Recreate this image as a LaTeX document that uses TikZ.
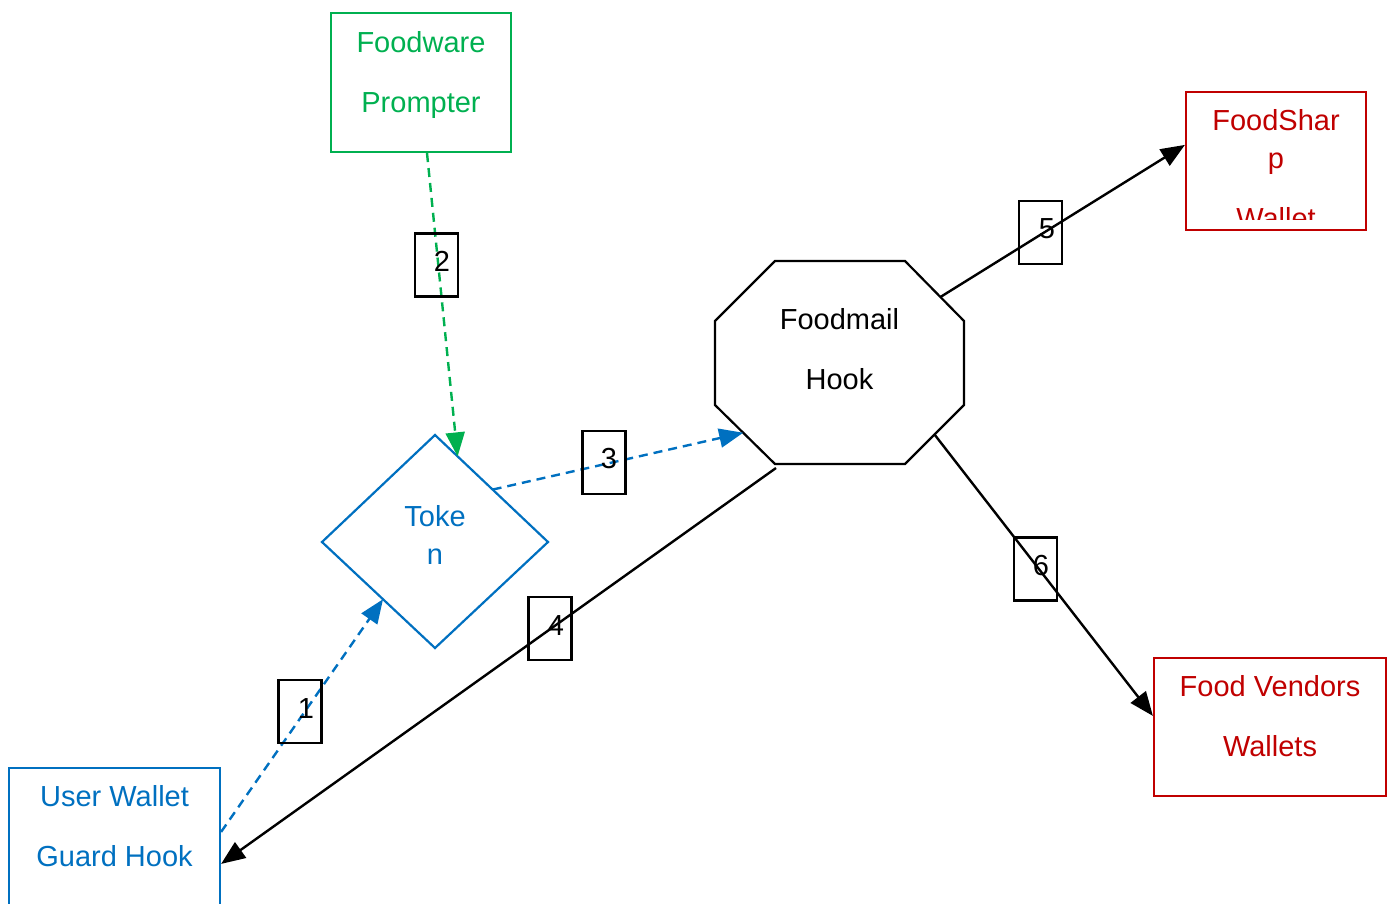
\documentclass[tikz,border=0pt]{standalone}
\usepackage{fontspec}
\setmainfont{Liberation Sans}
\usetikzlibrary{arrows.meta,calc}
\definecolor{cblue}{HTML}{0070C0}
\definecolor{cgreen}{HTML}{00B050}
\definecolor{cred}{HTML}{C00000}
\tikzset{
  box/.style={draw,line width=2.2pt,rectangle,inner sep=0pt},
  txt/.style={anchor=base,inner sep=0pt,font=\fontsize{29}{35}\selectfont},
  lbl/.style={draw=black,line width=2.2pt,rectangle,inner sep=0pt,minimum width=43pt,minimum height=63pt},
  arr/.style={line width=2.4pt,-{Triangle[length=24pt,width=19pt]}},
  dsh/.style={dash pattern=on 9pt off 6pt}
}
\begin{document}
\begin{tikzpicture}[x=1pt,y=-1pt]
\useasboundingbox (0,0) rectangle (1394,903);
% boxes
\node[box,draw=cgreen,minimum width=180pt,minimum height=139pt] (fp) at (421,82.5) {};
\node[txt,text=cgreen] (fpa) at (421,52) {Foodware};
\node[txt,text=cgreen] (fpb) at (421,112) {Prompter};

\node[box,draw=cred,minimum width=180pt,minimum height=138pt] (fs) at (1276,161) {};
\begin{scope}
\clip (1188,94) rectangle (1364,219);
\node[txt,text=cred] (fsa) at (1276,130) {FoodShar};
\node[txt,text=cred] (fsb) at (1276,168) {p};
\node[txt,text=cred] (fsc) at (1276,228) {Wallet};
\end{scope}

\node[box,draw=cred,minimum width=232pt,minimum height=138pt] (fv) at (1270,727) {};
\node[txt,text=cred] (fva) at (1270,696) {Food Vendors};
\node[txt,text=cred] (fvb) at (1270,756) {Wallets};

\node[box,draw=cblue,minimum width=211pt,minimum height=160pt] (uw) at (114.5,848) {};
\node[txt,text=cblue] (uwa) at (114.5,806) {User Wallet};
\node[txt,text=cblue] (uwb) at (114.5,866) {Guard Hook};

% token diamond
\coordinate (tkN) at (435,435);
\coordinate (tkE) at (548,542);
\coordinate (tkS) at (435,648);
\coordinate (tkW) at (322,542);
\draw[cblue,line width=2.2pt,line join=miter] (tkN) -- (tkE) -- (tkS) -- (tkW) -- cycle;
\node[txt,text=cblue] (tka) at (435,526) {Toke};
\node[txt,text=cblue] (tkb) at (435,564) {n};

% octagon
\coordinate (o1) at (775,261);
\coordinate (o2) at (905,261);
\coordinate (o3) at (964,321);
\coordinate (o4) at (964,405);
\coordinate (o5) at (905,464);
\coordinate (o6) at (775,464);
\coordinate (o7) at (715,405);
\coordinate (o8) at (715,321);
\draw[black,line width=2.2pt] (o1)--(o2)--(o3)--(o4)--(o5)--(o6)--(o7)--(o8)--cycle;
\node[txt] (fma) at (839.5,329) {Foodmail};
\node[txt] (fmb) at (839.5,389) {Hook};

% connectors
\draw[arr,cblue,dsh] ([yshift=-65pt]uw.north east) -- ($(tkW)!0.54!(tkS)$);
\draw[arr,cgreen,dsh] ([xshift=6pt]fp.south) -- ($(tkN)!0.2!(tkE)$);
\draw[arr,cblue,dsh] ($(tkN)!0.51!(tkE)$) -- ($(o7)!0.47!(o6)$);
\draw[arr,black] ([xshift=1pt,yshift=-4pt]o6) -- ([yshift=-97pt]uw.north east);
\draw[arr,black] ($(o2)!0.6!(o3)$) -- ([yshift=-54pt]fs.north west);
\draw[arr,black] ($(o4)!0.5!(o5)$) -- ([yshift=-59pt]fv.north west);

% labels
\node[lbl] (l1) at (300,711.5) {};
\node[txt] (l1t) at (306,718) {1};
\node[lbl] (l2) at (436.5,265) {};
\node[txt] (l2t) at (442,271) {2};
\node[lbl] (l3) at (604,462.5) {};
\node[txt] (l3t) at (609,468) {3};
\node[lbl] (l4) at (550,628.5) {};
\node[txt] (l4t) at (556,635) {4};
\node[lbl] (l5) at (1040.5,232.5) {};
\node[txt] (l5t) at (1047,238) {5};
\node[lbl] (l6) at (1035.5,569) {};
\node[txt] (l6t) at (1041,575) {6};
\end{tikzpicture}
\end{document}
